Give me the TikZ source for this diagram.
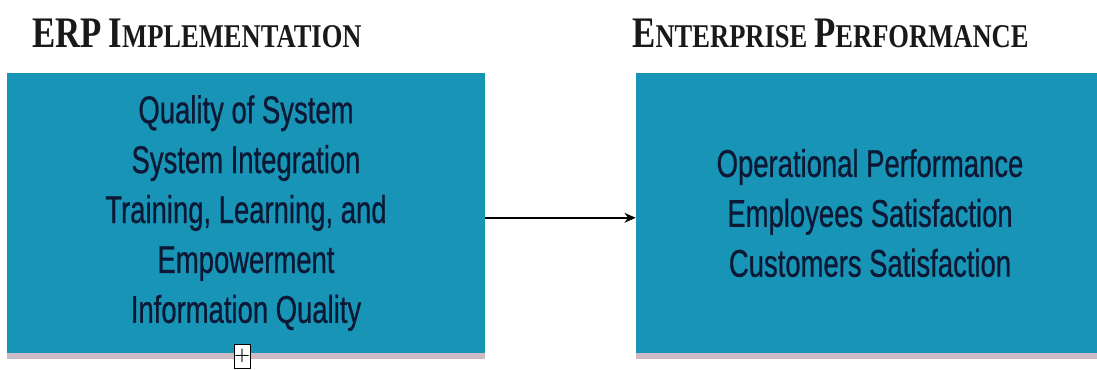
\documentclass[tikz,border=0pt]{standalone}
\usepackage{fontspec}
\usepackage{tikz}
\usetikzlibrary{arrows.meta}
\usetikzlibrary{shadows}
\usetikzlibrary{positioning}
\newfontfamily\boxfont[FakeStretch=0.71,FakeBold=0.6]{Liberation Sans}
\newfontfamily\headfont[FakeStretch=0.8]{Liberation Serif}
\definecolor{boxblue}{RGB}{24,148,182}
\definecolor{boxtext}{RGB}{12,24,52}
\definecolor{headtext}{RGB}{25,25,25}
\definecolor{shadowgray}{RGB}{170,140,158}
\newcommand{\initcap}[1]{{\fontsize{31pt}{31pt}\selectfont #1}}
\tikzset{factor/.style={fill=boxblue, text=boxtext, align=center, inner sep=0pt,
  font=\boxfont\fontsize{27.5pt}{35.5pt}\selectfont,
  drop shadow={shadow xshift=0pt, shadow yshift=-0.15cm, fill=shadowgray, opacity=0.6}},
 heading/.style={anchor=base west, inner sep=0pt, text=headtext,
  font=\headfont\bfseries\fontsize{23.6pt}{24pt}\selectfont},
 link/.style={draw=black, line width=1.1pt, -{Stealth[length=8pt,width=7pt]}},
 expander/.style={draw=black, fill=white, line width=0.7pt, inner sep=0pt,
  minimum width=0.4cm, minimum height=0.6cm},
 }

\begin{document}
\begin{tikzpicture}
    \useasboundingbox (0,0) rectangle (27.425,9.225);
    \node[heading] (erphead) at (0.8,8.05) {\initcap{ERP} \initcap{I}MPLEMENTATION};
    \node[heading] (perfhead) at (15.8,8.05) {\initcap{E}NTERPRISE \initcap{P}ERFORMANCE};
    \node[factor, minimum width=11.95cm, minimum height=7cm] (impl) at (6.15,3.9)
        {Quality of System\\System Integration\\Training, Learning, and\\Empowerment\\Information Quality};
    \node[factor, minimum width=11.7cm, minimum height=7cm] (perf) at (21.75,3.9)
        {Operational Performance\\Employees Satisfaction\\Customers Satisfaction};
    \node[expander] (expand) at (6.05,0.32) {\fontsize{13pt}{13pt}\selectfont\bfseries +};
    \draw[link] ([yshift=-0.12cm]impl.east) -- ([yshift=-0.12cm]perf.west);
\end{tikzpicture}
\end{document}
